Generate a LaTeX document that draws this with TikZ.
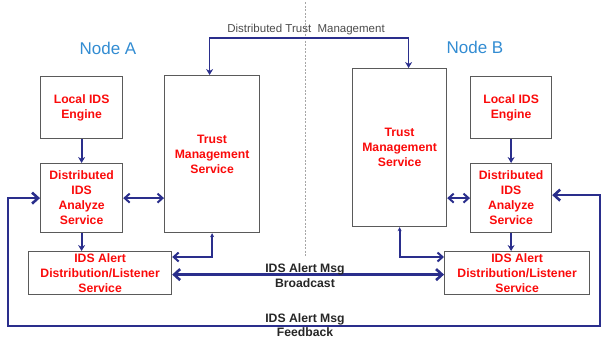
\documentclass[tikz,border=0pt]{standalone}
\usepackage{fontspec}
\setmainfont{Liberation Sans}
\usetikzlibrary{arrows.meta,calc}
\definecolor{navy}{RGB}{42,46,140}
\definecolor{boxgray}{RGB}{90,90,90}
\definecolor{nodeblue}{RGB}{50,140,210}
\definecolor{txtred}{RGB}{250,10,10}
\tikzset{
  box/.style={draw=boxgray,line width=1.2pt,rectangle,inner sep=0pt,anchor=north west,
    align=center,text=txtred,font=\bfseries\fontsize{12.2}{15}\selectfont},
  thin/.style={draw=navy,line width=1.8pt,arrows={-Stealth[length=6pt,width=7pt]}},
  thinboth/.style={draw=navy,line width=1.8pt,arrows={Stealth[length=6pt,width=7pt]-Stealth[length=6pt,width=7pt]}},
  chevboth/.style={draw=navy,line width=2pt,arrows={Straight Barb[length=5pt,width=9pt]-Straight Barb[length=5pt,width=9pt]}},
  tinychev/.style={draw=navy,line width=2pt,arrows={Stealth[length=4pt,width=4pt]-Straight Barb[length=5pt,width=9pt]}},
  thickboth/.style={draw=navy,line width=2.6pt,arrows={Straight Barb[length=6pt,width=11pt]-Straight Barb[length=6pt,width=11pt]}},
  nodelabel/.style={text=nodeblue,font=\fontsize{17}{20}\selectfont},
  msglabel/.style={align=center,text=black!85,font=\bfseries\fontsize{12.2}{14.5}\selectfont,inner sep=0pt},
}
\begin{document}
\begin{tikzpicture}[x=1pt,y=-1pt]
\useasboundingbox (0,0) rectangle (602,338);
% divider
\coordinate (dv1) at (305,2);
\coordinate (dv2) at (305,257);
\draw[gray!70,line width=0.9pt,dash pattern=on 2pt off 1.5pt] (dv1) -- (dv2);
% titles
\node[nodelabel] (NA) at (108,48) {Node A};
\node[nodelabel] (NB) at (475,47) {Node B};
% Node A boxes
\node[box,minimum width=82pt,minimum height=62pt] (LA) at (40,76) {Local IDS\\Engine};
\node[box,minimum width=82pt,minimum height=69pt] (DA) at (40,163) {Distributed\\IDS\\Analyze\\Service};
\node[box,minimum width=95pt,minimum height=157pt] (TA) at (164,75) {Trust\\Management\\Service};
\node[box,minimum width=143pt,minimum height=43pt] (AA) at (28,251) {IDS Alert\\Distribution/Listener\\Service};
% Node B boxes
\node[box,minimum width=94pt,minimum height=158pt] (TB) at (352,68) {Trust\\Management\\Service};
\node[box,minimum width=81pt,minimum height=62pt] (LB) at (470,76) {Local IDS\\Engine};
\node[box,minimum width=81pt,minimum height=69pt] (DB) at (470,163) {Distributed\\IDS\\Analyze\\Service};
\node[box,minimum width=145pt,minimum height=43pt] (AB) at (444,251) {IDS Alert\\Distribution/Listener\\Service};
% connectors node A
\draw[thin] (LA.south) -- (DA.north);
\draw[thin] (DA.south) -- (DA.south |- AA.north);
\draw[chevboth] (DA.east) -- (DA.east -| TA.west);
\draw[tinychev] (TA.south) |- ($(AA.north east)+(0,6)$);
% connectors node B
\draw[thin] (LB.south) -- (DB.north);
\draw[thin] (DB.south) -- (DB.south |- AB.north);
\draw[chevboth] (DB.west) -- (DB.west -| TB.east);
\draw[tinychev] (TB.south) |- ($(AB.north west)+(0,6)$);
% distributed trust management
\coordinate (dt) at (305,38);
\draw[thinboth,line width=1.6pt] ($(TA.north)+(-2.5,0)$) |- (dt) -| ($(TB.north)+(9,0)$);
\node[text=black!70,font=\fontsize{11.5}{13}\selectfont,inner sep=0pt] (DTM) at (306,30) {Distributed Trust\ \ Management};
% broadcast
\draw[thickboth] ($(AA.east)+(0,1.5)$) -- ($(AB.west)+(0,1.5)$);
\node[msglabel] (BL) at (305,275.5) {IDS Alert Msg\\Broadcast};
% feedback
\coordinate (f1) at (8,326);
\coordinate (f2) at (600,326);
\draw[thickboth] (DA.west) -| (f1) -- (f2) |- ($(DB.east)+(0,-3)$);
\node[msglabel] (FL) at (305,325) {IDS Alert Msg\\Feedback};
\end{tikzpicture}
\end{document}
